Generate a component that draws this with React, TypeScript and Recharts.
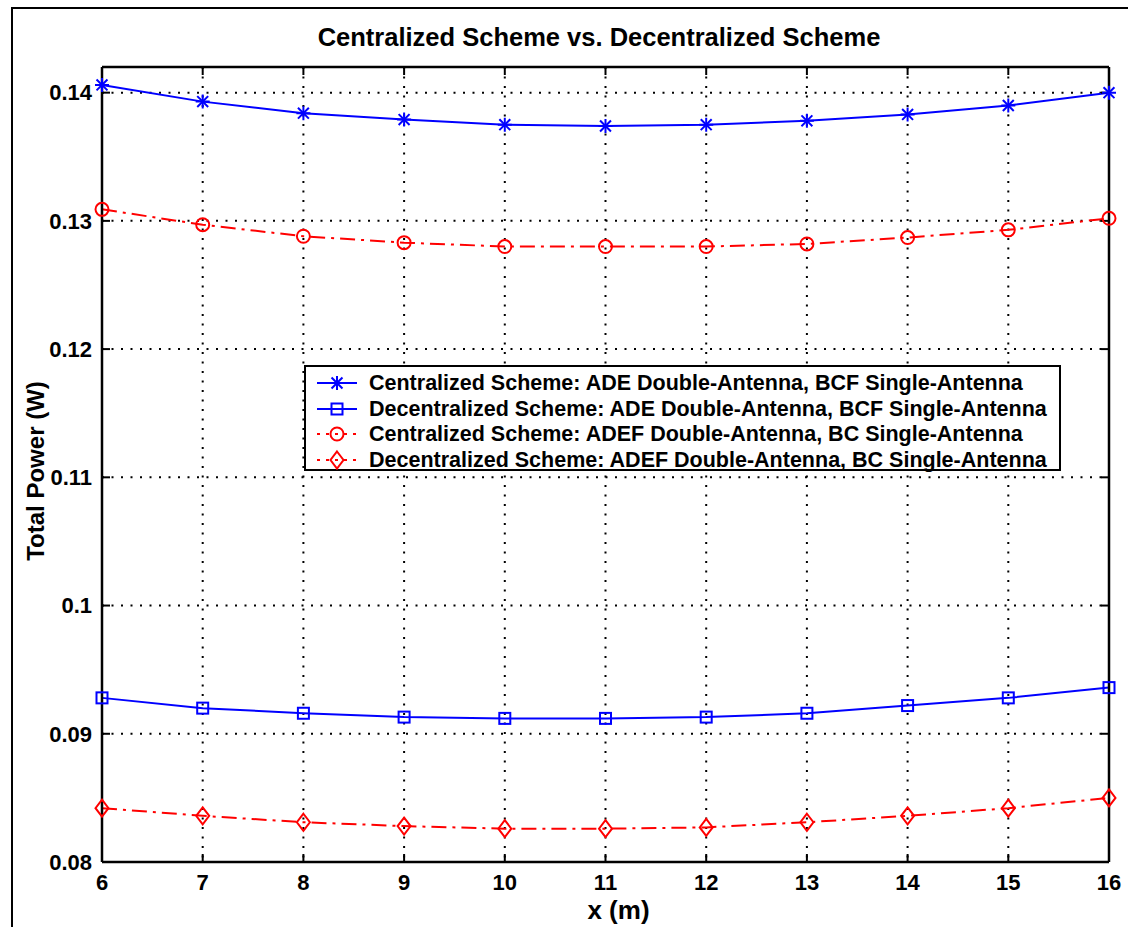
import React from 'react';
import { LineChart, Line, XAxis, YAxis, CartesianGrid, Legend } from 'recharts';

const xValues = [6, 7, 8, 9, 10, 11, 12, 13, 14, 15, 16];
const centralADE = [0.1406, 0.1393, 0.1384, 0.1379, 0.1375, 0.1374, 0.1375, 0.1378, 0.1383, 0.1390, 0.1400];
const decentralADE = [0.0928, 0.0920, 0.0916, 0.0913, 0.0912, 0.0912, 0.0913, 0.0916, 0.0922, 0.0928, 0.0936];
const centralADEF = [0.1309, 0.1297, 0.1288, 0.1283, 0.1280, 0.1280, 0.1280, 0.1282, 0.1287, 0.1293, 0.1302];
const decentralADEF = [0.0842, 0.0836, 0.0831, 0.0828, 0.0826, 0.0826, 0.0827, 0.0831, 0.0836, 0.0842, 0.0850];

const xTicks = [6, 7, 8, 9, 10, 11, 12, 13, 14, 15, 16];
const yTicks = [0.08, 0.09, 0.1, 0.11, 0.12, 0.13, 0.14];
const yTickLabels = ['0.08', '0.09', '0.1', '0.11', '0.12', '0.13', '0.14'];

const seriesNames = [
  'Centralized Scheme: ADE Double-Antenna, BCF Single-Antenna',
  'Decentralized Scheme: ADE Double-Antenna, BCF Single-Antenna',
  'Centralized Scheme: ADEF Double-Antenna, BC Single-Antenna',
  'Decentralized Scheme: ADEF Double-Antenna, BC Single-Antenna',
];
const seriesKeys = ['s1', 's2', 's3', 's4'];

const data = xValues.map((x, i) => ({
  x,
  s1: centralADE[i],
  s2: decentralADE[i],
  s3: centralADEF[i],
  s4: decentralADEF[i],
}));

const FONT = '"Liberation Sans", Arial, Helvetica, sans-serif';
const BLUE = '#0000ff';
const RED = '#ff0000';
const DASHDOT = '15 6 3 6';

type MarkerKind = 'star' | 'square' | 'circle' | 'diamond';

const Marker = ({ kind, cx, cy, color }: { kind: MarkerKind; cx: number; cy: number; color: string }) => {
  if (kind === 'star') {
    const r = 7;
    const d = r * 0.78;
    return (
      <g stroke={color} strokeWidth={2} fill="none">
        <line x1={cx} y1={cy - r} x2={cx} y2={cy + r} />
        <line x1={cx - r} y1={cy} x2={cx + r} y2={cy} />
        <line x1={cx - d} y1={cy - d} x2={cx + d} y2={cy + d} />
        <line x1={cx - d} y1={cy + d} x2={cx + d} y2={cy - d} />
      </g>
    );
  }
  if (kind === 'square') {
    return <rect x={cx - 5.5} y={cy - 5.5} width={11} height={11} stroke={color} strokeWidth={2} fill="none" />;
  }
  if (kind === 'circle') {
    return <circle cx={cx} cy={cy} r={6.5} stroke={color} strokeWidth={2} fill="none" />;
  }
  return (
    <polygon
      points={`${cx},${cy - 8.5} ${cx + 6.5},${cy} ${cx},${cy + 8.5} ${cx - 6.5},${cy}`}
      stroke={color}
      strokeWidth={2}
      fill="none"
    />
  );
};

const makeDot = (kind: MarkerKind, color: string) => (props: any) => {
  const { cx, cy, key, index } = props;
  if (cx == null || cy == null) return <g key={key ?? index} />;
  return (
    <g key={key ?? `${kind}-${index}`}>
      <Marker kind={kind} cx={cx} cy={cy} color={color} />
    </g>
  );
};

const legendStyles: Record<string, { kind: MarkerKind; color: string; dash?: string }> = {
  s1: { kind: 'star', color: BLUE },
  s2: { kind: 'square', color: BLUE },
  s3: { kind: 'circle', color: RED, dash: '3 6' },
  s4: { kind: 'diamond', color: RED, dash: '3 6' },
};

const renderLegend = (props: any) => {
  const payload = [...(props.payload || [])].sort(
    (a: any, b: any) => seriesKeys.indexOf(a.dataKey) - seriesKeys.indexOf(b.dataKey)
  );
  return (
    <div
      style={{
        boxSizing: 'border-box',
        width: 757,
        height: 106,
        border: '2px solid #000',
        background: '#fff',
        paddingTop: 3,
        paddingLeft: 10,
      }}
    >
      {payload.map((entry: any) => {
        const st = legendStyles[entry.dataKey];
        return (
          <div key={entry.dataKey} style={{ display: 'flex', alignItems: 'center', height: 25.8 }}>
            <svg width={42} height={22} style={{ marginRight: 11, flex: 'none' }}>
              <line x1={1} y1={11} x2={41} y2={11} stroke={st.color} strokeWidth={2} strokeDasharray={st.dash} />
              <Marker kind={st.kind} cx={21} cy={11} color={st.color} />
            </svg>
            <span
              style={{
                fontFamily: FONT,
                fontWeight: 700,
                fontSize: 21.5,
                lineHeight: '24px',
                color: '#000',
                whiteSpace: 'nowrap',
              }}
            >
              {entry.value}
            </span>
          </div>
        );
      })}
    </div>
  );
};

const YLabel = () => {
  const x = 35;
  const y = 471;
  return (
    <text
      x={x}
      y={y}
      transform={`rotate(-90, ${x}, ${y})`}
      textAnchor="middle"
      dominantBaseline="central"
      fontFamily={FONT}
      fontWeight={700}
      fontSize={24}
      fill="#000"
    >
      Total Power (W)
    </text>
  );
};

const XLabel = (props: any) => {
  const vb = props.viewBox || {};
  return (
    <text
      x={vb.x + vb.width / 2 + 13}
      y={919}
      textAnchor="middle"
      fontFamily={FONT}
      fontWeight={700}
      fontSize={26}
      fill="#000"
    >
      x (m)
    </text>
  );
};

export default function App() {
  const tickStyle = { fontFamily: FONT, fontWeight: 700, fontSize: 22, fill: '#000' };
  return (
    <div style={{ position: 'absolute', left: 0, top: 0, width: 1128, height: 927, background: '#fff', overflow: 'hidden' }}>
      <div
        style={{
          position: 'absolute',
          left: 11,
          top: 7,
          width: 1200,
          height: 1000,
          borderTop: '2px solid #000',
          borderLeft: '2px solid #000',
        }}
      />
      <div
        style={{
          position: 'absolute',
          left: 99,
          width: 1000,
          top: 22,
          textAlign: 'center',
          fontFamily: FONT,
          fontWeight: 700,
          fontSize: 25.5,
          lineHeight: '30px',
          color: '#000',
        }}
      >
        Centralized Scheme vs. Decentralized Scheme
      </div>
      <div style={{ position: 'absolute', left: 0, top: 0 }}>
        <LineChart width={1128} height={927} data={data} margin={{ top: 66, right: 18, bottom: 0, left: 0 }}>
          <CartesianGrid
            xAxisId="b"
            yAxisId="l"
            stroke="#000"
            strokeWidth={2}
            strokeDasharray="2 7.5"
            horizontalValues={yTicks}
            verticalValues={xTicks}
          />
          <XAxis
            xAxisId="b"
            dataKey="x"
            type="number"
            domain={[6, 16]}
            ticks={xTicks}
            interval={0}
            height={65}
            axisLine={{ stroke: '#000', strokeWidth: 2.5 }}
            tickLine={{ stroke: '#000', strokeWidth: 2 }}
            tickSize={-8}
            tickMargin={20}
            tick={tickStyle}
            label={<XLabel />}
          />
          <XAxis
            xAxisId="t"
            dataKey="x"
            type="number"
            orientation="top"
            domain={[6, 16]}
            ticks={xTicks}
            interval={0}
            height={1}
            axisLine={{ stroke: '#000', strokeWidth: 2.5 }}
            tickLine={{ stroke: '#000', strokeWidth: 2 }}
            tickSize={-8}
            tickFormatter={() => ''}
          />
          <YAxis
            yAxisId="l"
            type="number"
            domain={[0.08, 0.142]}
            allowDataOverflow
            ticks={yTicks}
            interval={0}
            width={102}
            axisLine={{ stroke: '#000', strokeWidth: 2.5 }}
            tickLine={{ stroke: '#000', strokeWidth: 2 }}
            tickSize={-8}
            tickMargin={18}
            tick={tickStyle}
            tickFormatter={(v: number, i: number) => yTickLabels[i] ?? String(v)}
            label={<YLabel />}
          />
          <YAxis
            yAxisId="r"
            type="number"
            orientation="right"
            domain={[0.08, 0.142]}
            allowDataOverflow
            ticks={yTicks}
            interval={0}
            width={1}
            axisLine={{ stroke: '#000', strokeWidth: 2.5 }}
            tickLine={{ stroke: '#000', strokeWidth: 2 }}
            tickSize={-8}
            tickFormatter={() => ''}
          />
          <Legend
            layout="vertical"
            align="center"
            verticalAlign="middle"
            content={renderLegend}
            wrapperStyle={{ position: 'absolute', left: 304, top: 365, width: 757, height: 106 }}
          />
          <Line
            xAxisId="b"
            yAxisId="l"
            dataKey="s1"
            name={seriesNames[0]}
            stroke={BLUE}
            strokeWidth={2}
            dot={makeDot('star', BLUE)}
            activeDot={false}
            isAnimationActive={false}
          />
          <Line
            xAxisId="b"
            yAxisId="l"
            dataKey="s2"
            name={seriesNames[1]}
            stroke={BLUE}
            strokeWidth={2}
            dot={makeDot('square', BLUE)}
            activeDot={false}
            isAnimationActive={false}
          />
          <Line
            xAxisId="b"
            yAxisId="l"
            dataKey="s3"
            name={seriesNames[2]}
            stroke={RED}
            strokeWidth={2}
            strokeDasharray={DASHDOT}
            dot={makeDot('circle', RED)}
            activeDot={false}
            isAnimationActive={false}
          />
          <Line
            xAxisId="b"
            yAxisId="l"
            dataKey="s4"
            name={seriesNames[3]}
            stroke={RED}
            strokeWidth={2}
            strokeDasharray={DASHDOT}
            dot={makeDot('diamond', RED)}
            activeDot={false}
            isAnimationActive={false}
          />
        </LineChart>
      </div>
    </div>
  );
}
